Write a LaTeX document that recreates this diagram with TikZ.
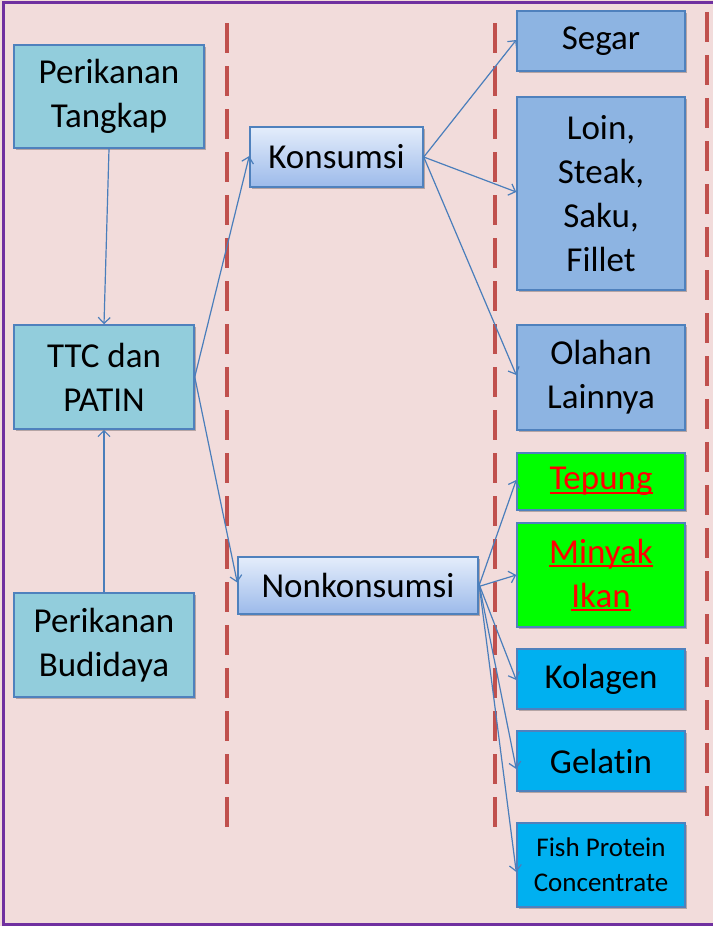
\documentclass[tikz,border=0pt]{standalone}
\usepackage{fontspec}
\setmainfont[Ligatures=NoCommon]{Carlito}
\usetikzlibrary{arrows.meta,shadows}
\definecolor{bg}{HTML}{F2DCDB}
\definecolor{framec}{HTML}{7030A0}
\definecolor{boxline}{HTML}{4F81BD}
\definecolor{srcfill}{HTML}{92CDDC}
\definecolor{midtop}{HTML}{E4EDFB}
\definecolor{midbot}{HTML}{9CBAEA}
\definecolor{prodfill}{HTML}{8DB4E2}
\definecolor{greenfill}{HTML}{00FF00}
\definecolor{cyanfill}{HTML}{00B0F0}
\definecolor{dashc}{HTML}{C0504D}
\definecolor{arrowc}{HTML}{4A7EBB}
\newcommand{\myredul}[1]{{\color{red}\setbox0\hbox{#1}\rlap{\rule[-4pt]{\wd0}{2pt}}\box0}}
\tikzset{
  box/.style={draw=boxline, line width=1.5pt, align=center, inner sep=0pt,
    font=\fontsize{35}{44}\selectfont, text=black,
    drop shadow={shadow xshift=2pt, shadow yshift=-2pt, opacity=0.25, fill=black}},
  srcbox/.style={box, fill=srcfill},
  midbox/.style={box, top color=midtop, bottom color=midbot},
  prodbox/.style={box, fill=prodfill},
  greenbox/.style={box, fill=greenfill},
  cyanbox/.style={box, fill=cyanfill},
  divider/.style={draw=dashc, line width=4pt, dash pattern=on 30pt off 13pt},
  conn/.style={draw=arrowc, line width=1.2pt, -{Straight Barb[length=6pt,width=12pt,line width=1.2pt]}},
}
\begin{document}
\begin{tikzpicture}[x=1pt,y=-1pt]
\useasboundingbox (0,0) rectangle (713,926);
\fill[bg] (0,0) rectangle (713,926);
\draw[framec, line width=3pt] (3,926) -- (3,2.5) -- (713,2.5);
\draw[framec, line width=3pt] (3,924.5) -- (713,924.5);

% dividers
\coordinate (d1a) at (227,23); \coordinate (d1b) at (227,827);
\coordinate (d2a) at (495,23); \coordinate (d2b) at (495,827);
\coordinate (d3a) at (707,12); \coordinate (d3b) at (707,817);
\draw[divider] (d1a) -- (d1b);
\draw[divider] (d2a) -- (d2b);
\draw[divider] (d3a) -- (d3b);

% source column
\node[srcbox, minimum width=190pt, minimum height=103pt] (pt) at (109,96.5) {Perikanan\\Tangkap};
\node[srcbox, minimum width=180pt, minimum height=104pt] (ttc) at (104,377) {TTC dan\\PATIN};
\node[srcbox, minimum width=180pt, minimum height=104pt] (bud) at (104,645) {Perikanan\\Budidaya};

% middle column
\node[midbox, minimum width=173pt, minimum height=60pt] (kon) at (336.5,157) {Konsumsi};
\node[midbox, minimum width=240pt, minimum height=57pt] (non) at (358,585.5) {Nonkonsumsi};

% product column
\node[prodbox, minimum width=168pt, minimum height=60pt] (seg) at (601,41) {Segar};
\node[prodbox, minimum width=168pt, minimum height=193pt] (loin) at (601,193.5) {Loin,\\Steak,\\Saku,\\Fillet};
\node[prodbox, minimum width=168pt, minimum height=105pt] (ola) at (601,377.5) {Olahan\\Lainnya};
\node[greenbox, minimum width=168pt, minimum height=57pt] (tep) at (601,481.5) {\myredul{Tepung}};
\node[greenbox, minimum width=168pt, minimum height=104pt] (min) at (601,575) {\myredul{Minyak}\\\myredul{Ikan}};
\node[cyanbox, minimum width=168pt, minimum height=60pt] (kol) at (601,679) {Kolagen};
\node[cyanbox, minimum width=168pt, minimum height=60pt] (gel) at (601,761) {Gelatin};
\node[cyanbox, minimum width=168pt, minimum height=84pt, font=\fontsize{27}{35}\selectfont] (fpc) at (601,865) {Fish Protein\\Concentrate};

% connectors
\draw[conn] (pt.south) -- (ttc.north);
\draw[conn] (bud.north) -- (ttc.south);
\draw[conn] (ttc.east) -- ([yshift=1pt]kon.west);
\draw[conn] (ttc.east) -- ([yshift=3pt]non.west);
\draw[conn] (kon.east) -- ([yshift=1pt]seg.west);
\draw[conn] (kon.east) -- ([yshift=1.5pt]loin.west);
\draw[conn] (kon.east) -- ([yshift=2.5pt]ola.west);
\draw[conn] ([yshift=-1pt]non.east) -- ([yshift=1.5pt]tep.west);
\draw[conn] ([yshift=-1pt]non.east) -- (min.west);
\draw[conn] ([yshift=2pt]non.east) -- ([yshift=-1pt]kol.west);
\draw[conn] ([yshift=3pt]non.east) -- ([yshift=-8pt]gel.west);
\draw[conn] ([yshift=4pt]non.east) -- ([yshift=-7pt]fpc.west);
\end{tikzpicture}
\end{document}
